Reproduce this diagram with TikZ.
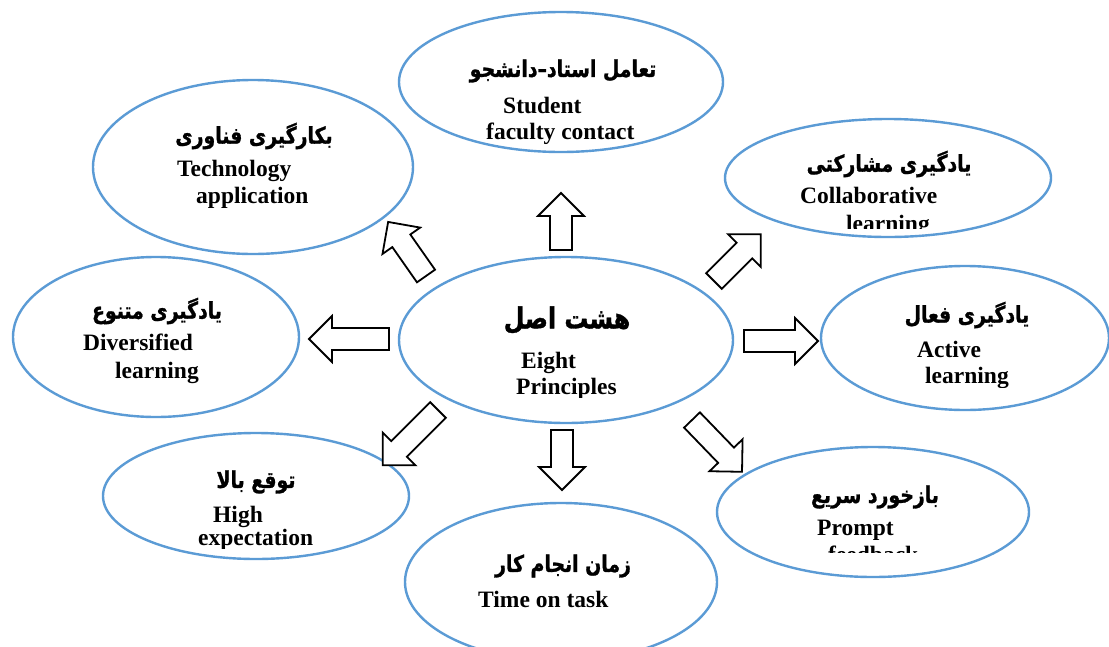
\documentclass[tikz,border=0pt]{standalone}
\usepackage{fontspec}
\setmainfont{Liberation Serif}
\newfontfamily\fafont[Script=Arabic,FakeStretch=0.82,BoldFeatures={FakeBold=1.2}]{DejaVu Sans}
\TeXXeTstate=1
\usetikzlibrary{shapes.geometric}
\definecolor{ovalblue}{RGB}{91,155,213}
\tikzset{
  bubble/.style={ellipse,draw=ovalblue,line width=2.4pt,fill=white,inner sep=0pt},
  fa/.style={font=\fafont\bfseries\fontsize{23}{26}\selectfont,inner sep=0pt},
  en/.style={font=\bfseries\fontsize{23.5}{27}\selectfont,anchor=base west,inner sep=0pt},
  hollow/.style={draw=black,line width=1.8pt,fill=white,line join=miter}
}
\begin{document}
\begin{tikzpicture}[x=1pt,y=-1pt]
		\useasboundingbox (0,0) rectangle (1109,646);
		% ellipses
		\node[bubble,minimum width=324pt,minimum height=140pt] (contact) at (561,82) {};
		\node[bubble,minimum width=320pt,minimum height=174pt] (techno) at (253,167) {};
		\node[bubble,minimum width=326pt,minimum height=118pt] (collab) at (888,178) {};
		\node[bubble,minimum width=334pt,minimum height=166pt] (hub) at (566,340) {};
		\node[bubble,minimum width=286pt,minimum height=160pt] (divers) at (156,337) {};
		\node[bubble,minimum width=288pt,minimum height=144pt] (active) at (965,338) {};
		\node[bubble,minimum width=306pt,minimum height=126pt] (expect) at (256,496) {};
		\node[bubble,minimum width=312pt,minimum height=130pt] (prompt) at (873,512) {};
		\node[bubble,minimum width=312pt,minimum height=158pt] (timetask) at (561,582) {};
		% hollow arrows: base x/base y/angle/length
		\foreach \x/\y/\a/\l in {561/250/90/57,426/276/125/66,714/281/45/66,389/339/180/80,
		                          744/341/0/74,438/410/225/78,562/430/270/60,692/420/-46/72}
			\draw[hollow,shift={(\x,\y)},rotate=\a] (0,-11) -- (\l-23,-11) -- (\l-23,-23) -- (\l,0)
				-- (\l-23,23) -- (\l-23,11) -- (0,11) -- cycle;
		% texts
		\node[fa] (contact-fa) at (563,71) {\beginR تعامل استاد–دانشجو\endR};
		\node[en] (contact-en1) at (503,113) {Student};
		\node[en] (contact-en2) at (486,139) {faculty contact};
		\node[fa] (techno-fa) at (254,136) {\beginR بکارگیری فناوری\endR};
		\node[en] (techno-en1) at (177,176) {Technology};
		\node[en] (techno-en2) at (196,203) {application};
		\node[fa] (collab-fa) at (889,164) {\beginR یادگیری مشارکتی\endR};
		\node[en] (collab-en1) at (800,203) {Collaborative};
		\begin{scope}
			\clip (700,0) rectangle (1100,228); %cut line
			\node[en] (collab-en2) at (846,231) {learning};
		\end{scope}
		\node[fa,font=\fafont\bfseries\fontsize{29}{32}\selectfont] (hub-fa) at (567,320) {\beginR هشت اصل\endR};
		\node[en] (hub-en1) at (521,368) {Eight};
		\begin{scope}
			\clip (400,0) rectangle (730,397);
			\node[en] (hub-en2) at (516,394) {Principles};
		\end{scope}
		\node[fa] (divers-fa) at (157,311) {\beginR یادگیری متنوع\endR};
		\node[en] (divers-en1) at (83,350) {Diversified};
		\node[en] (divers-en2) at (115,378) {learning};
		\node[fa] (active-fa) at (967,315) {\beginR یادگیری فعال\endR};
		\node[en] (active-en1) at (917,357) {Active};
		\begin{scope}
			\clip (820,0) rectangle (1109,387);
			\node[en] (active-en2) at (925,383) {learning};
		\end{scope}
		\node[fa] (expect-fa) at (256,482) {\beginR توقع بالا\endR};
		\node[en] (expect-en1) at (213,522) {High};
		\begin{scope}
			\clip (100,0) rectangle (410,548);
			\node[en] (expect-en2) at (198,545) {expectation};
		\end{scope}
		\node[fa] (prompt-fa) at (875,497) {\beginR بازخورد سریع\endR};
		\node[en] (prompt-en1) at (817,535) {Prompt};
		\begin{scope}
			\clip (715,0) rectangle (1030,552);
			\node[en] (prompt-en2) at (828,562) {feedback};
		\end{scope}
		\node[fa] (timetask-fa) at (563,566) {\beginR زمان انجام کار\endR};
		\node[en] (timetask-en) at (478,607) {Time on task};
	\end{tikzpicture}
\end{document}
